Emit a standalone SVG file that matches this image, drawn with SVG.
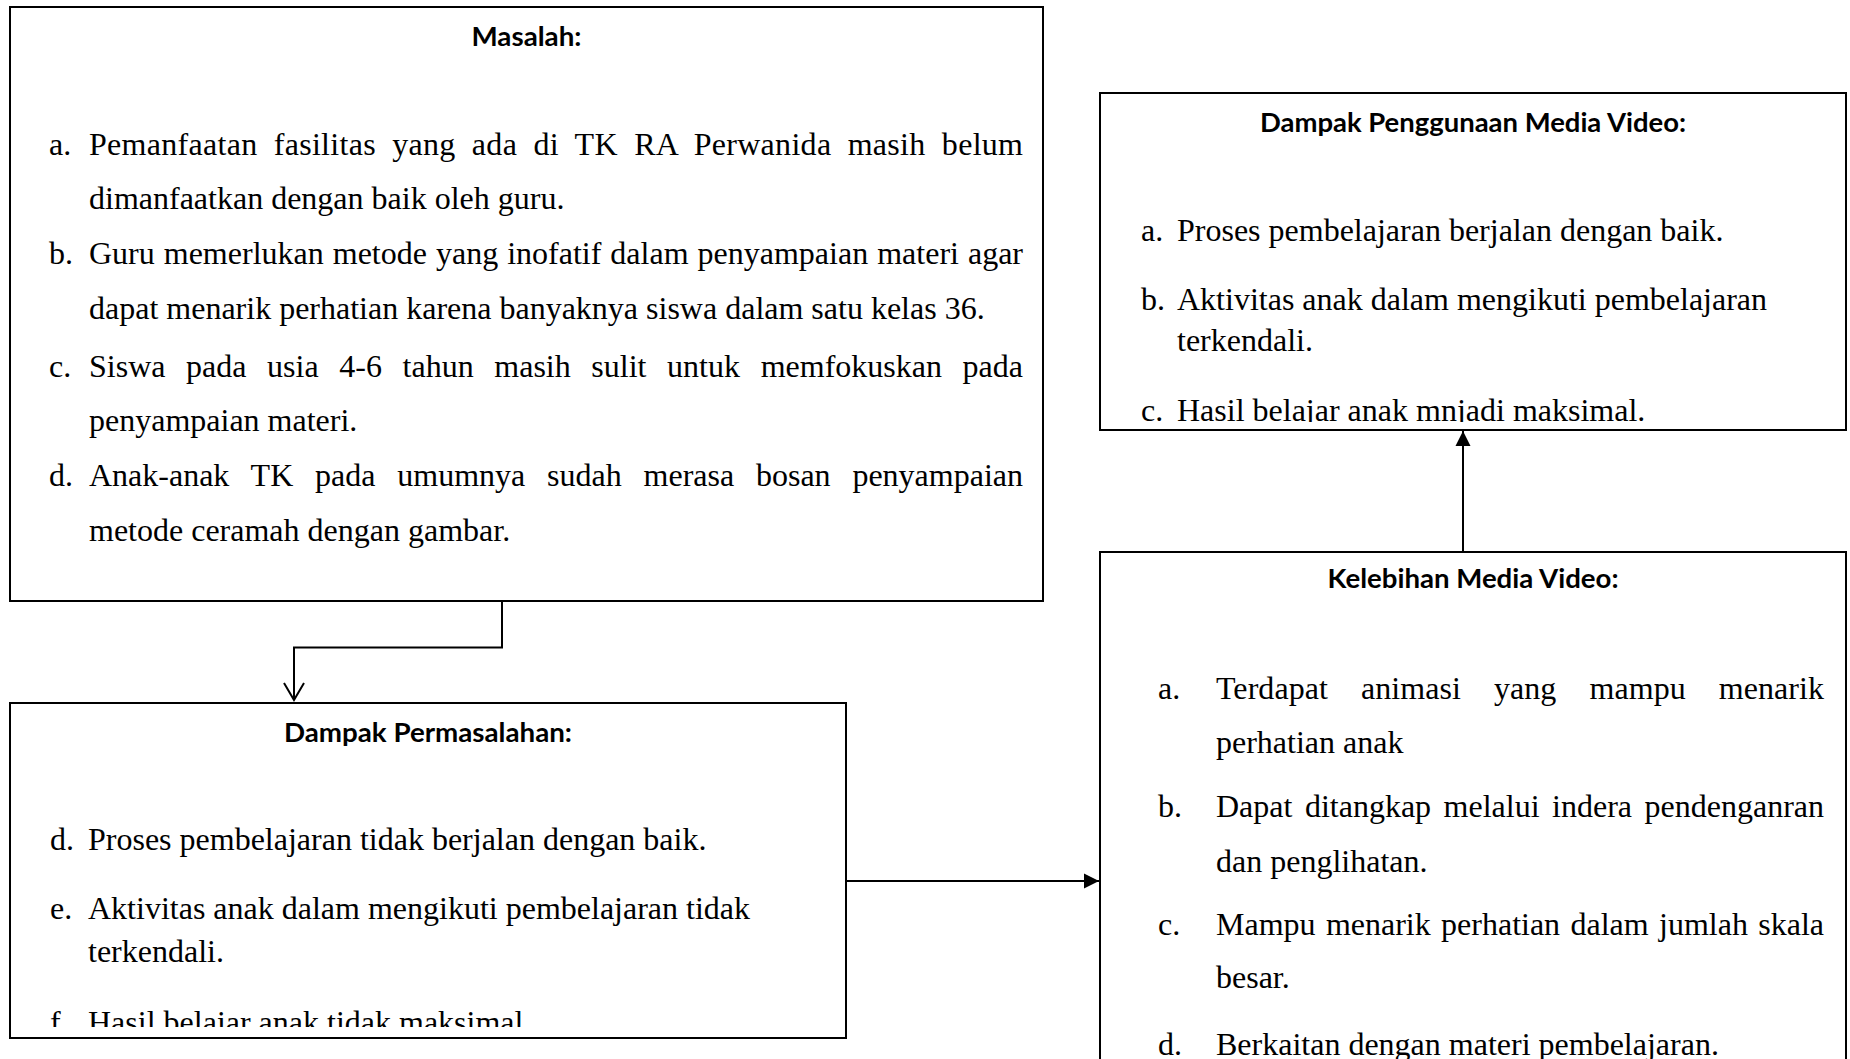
<svg xmlns="http://www.w3.org/2000/svg" width="1850" height="1059" viewBox="0 0 1850 1059">
<defs>
<style>
.box{fill:#fff;stroke:#000;stroke-width:2}
.t{font-family:"Liberation Serif","Times New Roman",serif;font-size:32px;fill:#000}
.h{font-family:Lato,"Open Sans",sans-serif;font-weight:bold;font-size:26px;fill:#000;text-anchor:middle}
.c{fill:none;stroke:#000;stroke-width:2}
</style>
<marker id="openArrow" markerUnits="userSpaceOnUse" viewBox="-20 -12 22 24" refX="0" refY="0" markerWidth="22" markerHeight="24" orient="auto" overflow="visible">
<path d="M-17,-10 L0,0 L-17,10" fill="none" stroke="#000" stroke-width="2"/>
</marker>
<marker id="solidArrow" markerUnits="userSpaceOnUse" viewBox="-16 -8 17 16" refX="0" refY="0" markerWidth="17" markerHeight="16" orient="auto" overflow="visible">
<path d="M-15,-7.5 L0,0 L-15,7.5 Z" fill="#000"/>
</marker>
<clipPath id="clipDP"><rect x="10" y="703" width="836" height="324"/></clipPath>
<clipPath id="clipDM"><rect x="1100" y="93" width="746" height="329"/></clipPath>
</defs>
<rect width="1850" height="1059" fill="#fff"/>

<g id="masalah">
<rect class="box" x="10" y="7" width="1033" height="594"/>
<text class="h" x="526.5" y="46" textLength="110" lengthAdjust="spacingAndGlyphs">Masalah:</text>
<text class="t" x="49" y="155">a.</text>
<text class="t" x="89" y="155" word-spacing="8" textLength="934" lengthAdjust="spacing">Pemanfaatan fasilitas yang ada di TK RA Perwanida masih belum</text>
<text class="t" x="89" y="209">dimanfaatkan dengan baik oleh guru.</text>
<text class="t" x="49" y="264">b.</text>
<text class="t" x="89" y="264" word-spacing="1" textLength="934" lengthAdjust="spacing">Guru memerlukan metode yang inofatif dalam penyampaian materi agar</text>
<text class="t" x="89" y="319">dapat menarik perhatian karena banyaknya siswa dalam satu kelas 36.</text>
<text class="t" x="49" y="377">c.</text>
<text class="t" x="89" y="377" word-spacing="12.6" textLength="934" lengthAdjust="spacing">Siswa pada usia 4-6 tahun masih sulit untuk memfokuskan pada</text>
<text class="t" x="89" y="431">penyampaian materi.</text>
<text class="t" x="49" y="486">d.</text>
<text class="t" x="89" y="486" word-spacing="13.8" textLength="934" lengthAdjust="spacing">Anak-anak TK pada umumnya sudah merasa bosan penyampaian</text>
<text class="t" x="89" y="541">metode ceramah dengan gambar.</text>
</g>

<g id="dampak-permasalahan">
<rect class="box" x="10" y="703" width="836" height="335"/>
<text class="h" x="428" y="742" textLength="288" lengthAdjust="spacingAndGlyphs">Dampak Permasalahan:</text>
<text class="t" x="50" y="850">d.</text>
<text class="t" x="88" y="850">Proses pembelajaran tidak berjalan dengan baik.</text>
<text class="t" x="50" y="919">e.</text>
<text class="t" x="88" y="919">Aktivitas anak dalam mengikuti pembelajaran tidak</text>
<text class="t" x="88" y="962">terkendali.</text>
<g clip-path="url(#clipDP)">
<text class="t" x="50" y="1033">f.</text>
<text class="t" x="88" y="1033">Hasil belajar anak tidak maksimal.</text>
</g>
</g>

<g id="dampak-media-video">
<rect class="box" x="1100" y="93" width="746" height="337"/>
<text class="h" x="1473" y="132" textLength="426" lengthAdjust="spacingAndGlyphs">Dampak Penggunaan Media Video:</text>
<text class="t" x="1141" y="241">a.</text>
<text class="t" x="1177" y="241">Proses pembelajaran berjalan dengan baik.</text>
<text class="t" x="1141" y="310">b.</text>
<text class="t" x="1177" y="310">Aktivitas anak dalam mengikuti pembelajaran</text>
<text class="t" x="1177" y="350.5">terkendali.</text>
<g clip-path="url(#clipDM)">
<text class="t" x="1141" y="420.5">c.</text>
<text class="t" x="1177" y="420.5">Hasil belajar anak mnjadi maksimal.</text>
</g>
</g>

<g id="kelebihan-media-video">
<rect class="box" x="1100" y="552" width="746" height="520"/>
<text class="h" x="1473" y="588" textLength="291" lengthAdjust="spacingAndGlyphs">Kelebihan Media Video:</text>
<text class="t" x="1158" y="699">a.</text>
<text class="t" x="1216" y="699" word-spacing="25" textLength="608" lengthAdjust="spacing">Terdapat animasi yang mampu menarik</text>
<text class="t" x="1216" y="753">perhatian anak</text>
<text class="t" x="1158" y="817">b.</text>
<text class="t" x="1216" y="817" word-spacing="4.5" textLength="608" lengthAdjust="spacing">Dapat ditangkap melalui indera pendenganran</text>
<text class="t" x="1216" y="872">dan penglihatan.</text>
<text class="t" x="1158" y="935">c.</text>
<text class="t" x="1216" y="935" word-spacing="2.4" textLength="608" lengthAdjust="spacing">Mampu menarik perhatian dalam jumlah skala</text>
<text class="t" x="1216" y="988">besar.</text>
<text class="t" x="1158" y="1055">d.</text>
<text class="t" x="1216" y="1055">Berkaitan dengan materi pembelajaran.</text>
</g>

<g id="connectors">
<path class="c" d="M502,601 V647.5 H294 V700" marker-end="url(#openArrow)"/>
<path class="c" d="M846,881 H1099" marker-end="url(#solidArrow)"/>
<path class="c" d="M1463,552 V431" marker-end="url(#solidArrow)"/>
</g>
</svg>
